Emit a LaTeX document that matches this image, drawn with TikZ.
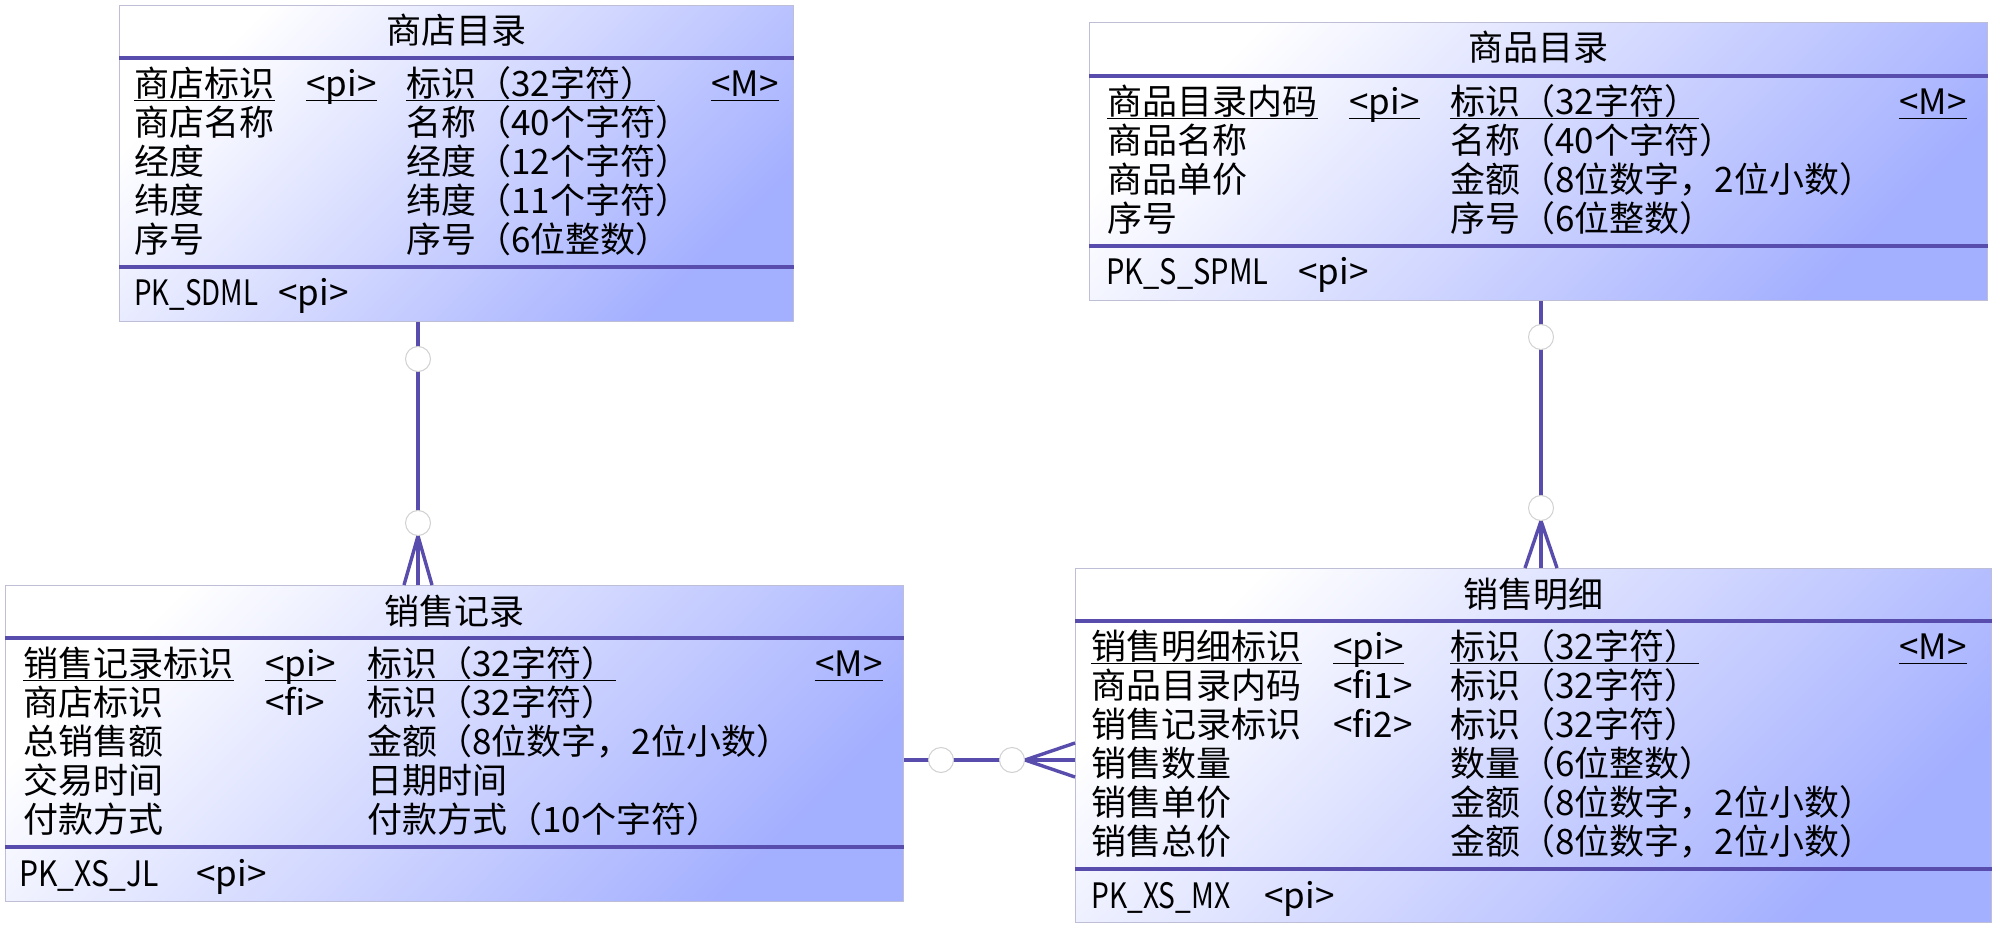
\documentclass[tikz,border=0pt]{standalone}
\usepackage{fontspec}
\usepackage{graphicx}
\newfontfamily\cjk{Noto Sans CJK SC}
\definecolor{lnc}{RGB}{88,76,172}
\definecolor{bxe}{RGB}{163,175,255}
\definecolor{bxb}{RGB}{190,190,215}
\newcommand\setcols[4]{\def\cN{#1}\def\cP{#2}\def\cT{#3}\def\cM{#4}}
% underlined primary-key row: prefix, y-centre, name, key, type
\newcommand\ulrow[5]{%
  \node[txt] (#1n) at (\cN,#2+13) {#3};
  \node[txt] (#1k) at (\cP,#2+13) {#4};
  \node[txt] (#1t) at (\cT,#2+13) {#5};
  \node[txt, anchor=base] (#1m) at (\cM,#2+13) {<M>};
  \draw[ul] ([yshift=-2pt]#1n.base west) -- ([yshift=-2pt]#1n.base east);
  \draw[ul] ([yshift=-2pt]#1k.base west) -- ([yshift=-2pt]#1k.base east);
  \draw[ul] ([yshift=-2pt]#1t.base west) -- ++(249,0);
  \draw[ul] ([yshift=-2pt]#1m.base west) -- ([yshift=-2pt]#1m.base east);}
% row with key: prefix, y, name, key, type
\newcommand\keyrow[5]{%
  \node[txt] (#1n) at (\cN,#2+13) {#3};
  \node[txt] (#1k) at (\cP,#2+13) {#4};
  \node[txt] (#1t) at (\cT,#2+13) {#5};}
% plain row: prefix, y, name, type
\newcommand\plainrow[4]{%
  \node[txt] (#1n) at (\cN,#2+13) {#3};
  \node[txt] (#1t) at (\cT,#2+13) {#4};}
\begin{document}
\begin{tikzpicture}[x=0.5pt,y=-0.5pt,
  ent/.style={draw=bxb, line width=0.6pt, top color=white, bottom color=bxe,
    shading angle=45, anchor=north west, inner sep=0pt},
  sep/.style={draw=lnc, line width=1.6pt},
  txt/.style={font=\cjk\fontsize{17.5}{21}\selectfont, inner sep=0pt, anchor=base west, text=black},
  ttl/.style={font=\cjk\fontsize{17.5}{21}\selectfont, inner sep=0pt, anchor=base, text=black},
  ul/.style={draw=black, line width=0.6pt},
  conn/.style={draw=lnc, line width=1.7pt},
  ring/.style={circle, draw=black!18, fill=white, line width=0.5pt, minimum size=12.5pt, inner sep=0pt}]
\useasboundingbox (0,0) rectangle (2000,935);
\fill[white] (0,0) rectangle (2000,935);

\coordinate (k1) at (418,0);
\coordinate (k2) at (1541,0);
\coordinate (k3) at (0,760);

% ---------- boxes ----------
\node[ent, minimum width=337pt, minimum height=158pt] (sdml) at (119,5) {};
\node[ent, minimum width=449pt, minimum height=139pt] (spml) at (1089,22) {};
\node[ent, minimum width=449pt, minimum height=158pt] (xsjl) at (5,585) {};
\node[ent, minimum width=458pt, minimum height=177pt] (xsmx) at (1075,568) {};

% separators
\draw[sep] ([yshift=-26.5pt]sdml.north west) -- ([yshift=-26.5pt]sdml.north east);
\draw[sep] ([yshift=-131pt]sdml.north west) -- ([yshift=-131pt]sdml.north east);
\draw[sep] ([yshift=-27pt]spml.north west) -- ([yshift=-27pt]spml.north east);
\draw[sep] ([yshift=-112pt]spml.north west) -- ([yshift=-112pt]spml.north east);
\draw[sep] ([yshift=-26.5pt]xsjl.north west) -- ([yshift=-26.5pt]xsjl.north east);
\draw[sep] ([yshift=-131pt]xsjl.north west) -- ([yshift=-131pt]xsjl.north east);
\draw[sep] ([yshift=-26.5pt]xsmx.north west) -- ([yshift=-26.5pt]xsmx.north east);
\draw[sep] ([yshift=-150.5pt]xsmx.north west) -- ([yshift=-150.5pt]xsmx.north east);

% ---------- 商店目录 ----------
\node[ttl] (t1) at (456,31+13) {商店目录};
\setcols{134}{306}{406}{745}
\ulrow{a1}{83.5}{商店标识}{<pi>}{标识（32字符）}
\plainrow{a2}{122.5}{商店名称}{名称（40个字符）}
\plainrow{a3}{161.5}{经度}{经度（12个字符）}
\plainrow{a4}{200.5}{纬度}{纬度（11个字符）}
\plainrow{a5}{239.5}{序号}{序号（6位整数）}
\node[txt] (a6) at (134,293+13) {\resizebox{62pt}{\height}{PK\_SDML}};
\node[txt] (a6k) at (278,293+13) {<pi>};

% ---------- 商品目录 ----------
\node[ttl] (t2) at (1538,48+13) {商品目录};
\setcols{1107}{1349}{1450}{1933}
\ulrow{b1}{101.5}{商品目录内码}{<pi>}{标识（32字符）}
\plainrow{b2}{140.5}{商品名称}{名称（40个字符）}
\plainrow{b3}{179.5}{商品单价}{金额（8位数字，2位小数）}
\plainrow{b4}{218.5}{序号}{序号（6位整数）}
\node[txt] (b6) at (1106,272+13) {\resizebox{81pt}{\height}{PK\_S\_SPML}};
\node[txt] (b6k) at (1298,272+13) {<pi>};

% ---------- 销售记录 ----------
\node[ttl] (t3) at (454,611+13) {销售记录};
\setcols{23}{265}{367}{849}
\ulrow{c1}{663.5}{销售记录标识}{<pi>}{标识（32字符）}
\keyrow{c2}{702.5}{商店标识}{<fi>}{标识（32字符）}
\plainrow{c3}{741.5}{总销售额}{金额（8位数字，2位小数）}
\plainrow{c4}{780.5}{交易时间}{日期时间}
\plainrow{c5}{819.5}{付款方式}{付款方式（10个字符）}
\node[txt] (c6) at (19,873+13) {\resizebox{69.5pt}{\height}{PK\_XS\_JL}};
\node[txt] (c6k) at (196,873+13) {<pi>};

% ---------- 销售明细 ----------
\node[ttl] (t4) at (1533,594+13) {销售明细};
\setcols{1091}{1333}{1450}{1933}
\ulrow{d1}{646.5}{销售明细标识}{<pi>}{标识（32字符）}
\keyrow{d2}{685.5}{商品目录内码}{<fi1>}{标识（32字符）}
\keyrow{d3}{724.5}{销售记录标识}{<fi2>}{标识（32字符）}
\plainrow{d4}{763.5}{销售数量}{数量（6位整数）}
\plainrow{d5}{802.5}{销售单价}{金额（8位数字，2位小数）}
\plainrow{d6}{841.5}{销售总价}{金额（8位数字，2位小数）}
\node[txt] (d7) at (1091,895+13) {\resizebox{69.5pt}{\height}{PK\_XS\_MX}};
\node[txt] (d7k) at (1264,895+13) {<pi>};

% ---------- relationships ----------
% 商店目录 -> 销售记录
\coordinate (a1x) at (418,536);
\coordinate (f1a) at (404,585);
\coordinate (f1b) at (432,585);
\draw[conn] (sdml.south -| k1) -- (xsjl.north -| k1);
\draw[conn] (f1a) -- (a1x) -- (f1b);
\node[ring] (r1a) at (418,359) {};
\node[ring] (r1b) at (418,523) {};

% 商品目录 -> 销售明细
\coordinate (a2x) at (1541,521);
\coordinate (f2a) at (1525,568);
\coordinate (f2b) at (1557,568);
\draw[conn] (spml.south -| k2) -- (xsmx.north -| k2);
\draw[conn] (f2a) -- (a2x) -- (f2b);
\node[ring] (r2a) at (1541,337) {};
\node[ring] (r2b) at (1541,508) {};

% 销售记录 -> 销售明细
\coordinate (a3x) at (1025,760);
\coordinate (f3a) at (1075,743);
\coordinate (f3b) at (1075,777);
\draw[conn] (xsjl.east |- k3) -- (xsmx.west |- k3);
\draw[conn] (f3a) -- (a3x) -- (f3b);
\node[ring] (r3a) at (941,760) {};
\node[ring] (r3b) at (1012,760) {};
\end{tikzpicture}
\end{document}
